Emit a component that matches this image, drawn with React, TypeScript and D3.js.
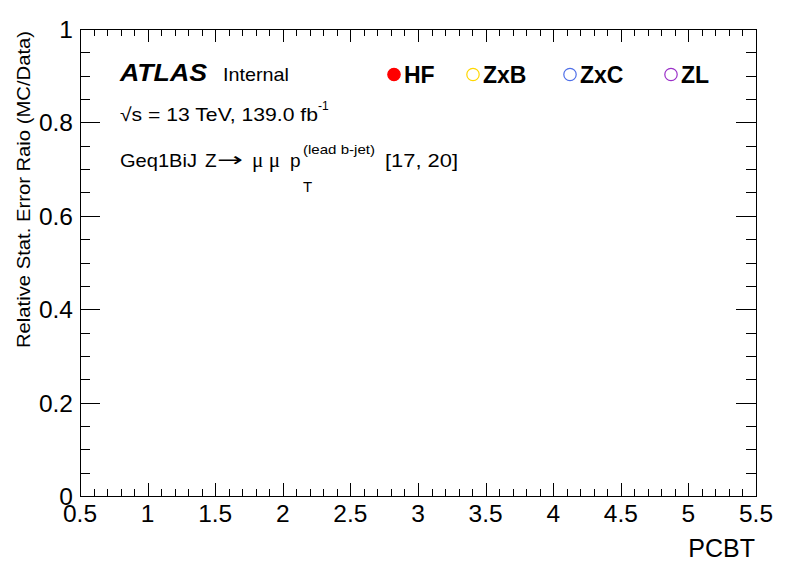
import { useEffect, useRef } from 'react';
import * as d3 from 'd3';

// Series in the legend (the histogram itself holds no visible points)
const seriesNames = ['HF', 'ZxB', 'ZxC', 'ZL'];
const seriesColors = ['#ff0000', '#ffd700', '#4f6fe8', '#9b30c8'];
const seriesFilled = [true, false, false, false];
const seriesValues: number[][] = [[], [], [], []];

const xDomain = [0.5, 5.5];
const yDomain = [0, 1];
const xMajorTicks = [0.5, 1, 1.5, 2, 2.5, 3, 3.5, 4, 4.5, 5, 5.5];
const yMajorTicks = [0, 0.2, 0.4, 0.6, 0.8, 1];

export default function App() {
  const svgRef = useRef<SVGSVGElement>(null);

  useEffect(() => {
    if (!svgRef.current) return;
    const width = 796;
    const height = 572;
    const margin = { top: 29, right: 40, bottom: 76, left: 80 };
    const innerW = width - margin.left - margin.right;
    const innerH = height - margin.top - margin.bottom;
    const font = "'Liberation Sans', Arial, Helvetica, sans-serif";

    const svg = d3.select(svgRef.current);
    svg.selectAll('*').remove();
    svg.attr('width', width).attr('height', height);

    svg.append('rect').attr('width', width).attr('height', height).attr('fill', '#fff');

    const g = svg.append('g').attr('transform', `translate(${margin.left},${margin.top})`);

    const x = d3.scaleLinear().domain(xDomain).range([0, innerW]);
    const y = d3.scaleLinear().domain(yDomain).range([innerH, 0]);

    const xMinor = d3.range(51).map((i) => xDomain[0] + i * 0.1);
    const yMinor = d3.range(21).map((i) => i * 0.05);
    const xMajLen = 13;
    const xMinLen = 7;
    const yMajLen = 20;
    const yMinLen = 10;

    const isMajor = (v: number, step: number) => Math.abs(v / step - Math.round(v / step)) < 1e-6;

    // frame
    g.append('rect')
      .attr('x', 0.5)
      .attr('y', 0.5)
      .attr('width', innerW)
      .attr('height', innerH)
      .attr('fill', 'none')
      .attr('stroke', '#000')
      .attr('stroke-width', 1);

    // x ticks bottom & top
    xMinor.forEach((v) => {
      const len = isMajor(v, 0.5) ? xMajLen : xMinLen;
      const px = Math.round(x(v)) + 0.5;
      g.append('line').attr('x1', px).attr('x2', px).attr('y1', innerH).attr('y2', innerH - len).attr('stroke', '#000');
      g.append('line').attr('x1', px).attr('x2', px).attr('y1', 0).attr('y2', len).attr('stroke', '#000');
    });

    // y ticks left & right
    yMinor.forEach((v) => {
      const len = isMajor(v, 0.2) ? yMajLen : yMinLen;
      const py = Math.round(y(v)) + 0.5;
      g.append('line').attr('x1', 0).attr('x2', len).attr('y1', py).attr('y2', py).attr('stroke', '#000');
      g.append('line').attr('x1', innerW).attr('x2', innerW - len).attr('y1', py).attr('y2', py).attr('stroke', '#000');
    });

    // x tick labels
    xMajorTicks.forEach((v) => {
      g.append('text')
        .attr('x', x(v))
        .attr('y', innerH + 26)
        .attr('text-anchor', 'middle')
        .attr('font-family', font)
        .attr('font-size', 24.5)
        .text(String(v));
    });

    // y tick labels
    yMajorTicks.forEach((v) => {
      g.append('text')
        .attr('x', -7)
        .attr('y', y(v) + 9)
        .attr('text-anchor', 'end')
        .attr('font-family', font)
        .attr('font-size', 24.5)
        .text(String(v));
    });

    // axis titles
    svg.append('text')
      .attr('x', 755)
      .attr('y', 557)
      .attr('text-anchor', 'end')
      .attr('font-family', font)
      .attr('font-size', 25)
      .text('PCBT');

    svg.append('text')
      .attr('transform', `translate(30,31) rotate(-90)`)
      .attr('text-anchor', 'end')
      .attr('font-family', font)
      .attr('font-size', 19)
      .attr('textLength', 317)
      .attr('lengthAdjust', 'spacingAndGlyphs')
      .text('Relative Stat. Error Raio (MC/Data)');

    // ATLAS labels
    svg.append('text')
      .attr('x', 120)
      .attr('y', 81)
      .attr('font-family', font)
      .attr('font-size', 24)
      .attr('font-weight', 'bold')
      .attr('font-style', 'italic')
      .attr('textLength', 87)
      .attr('lengthAdjust', 'spacingAndGlyphs')
      .text('ATLAS');
    svg.append('text')
      .attr('x', 223)
      .attr('y', 81)
      .attr('font-family', font)
      .attr('font-size', 19)
      .attr('textLength', 66)
      .attr('lengthAdjust', 'spacingAndGlyphs')
      .text('Internal');

    const txt = (s: string, px: number, py: number, size: number, len?: number, fam = font) => {
      const t = svg.append('text').attr('x', px).attr('y', py).attr('font-family', fam).attr('font-size', size).text(s);
      if (len) t.attr('textLength', len).attr('lengthAdjust', 'spacingAndGlyphs');
      return t;
    };

    txt('\u221As = 13 TeV, 139.0 fb', 120, 121, 18.5, 198);
    txt('-1', 318, 110, 12);

    txt('Geq1BiJ', 120, 167, 19, 77);
    txt('Z', 205, 167, 19);
    txt('\u2192', 217, 166, 19, 26, "'DejaVu Sans', sans-serif");
    txt('\u03bc \u03bc', 252, 167, 20, 28, "'Liberation Serif', 'DejaVu Serif', serif");
    txt('p', 290, 167, 19);
    txt('(lead b-jet)', 303, 154, 13, 72);
    txt('T', 303, 192, 15);
    txt('[17, 20]', 385, 167, 19, 73);

    // legend
    const legendX = [394, 473, 570, 671];
    seriesNames.forEach((name, i) => {
      svg.append('circle')
        .attr('cx', legendX[i])
        .attr('cy', 74.5)
        .attr('r', 6.2)
        .attr('fill', seriesFilled[i] ? seriesColors[i] : 'none')
        .attr('stroke', seriesColors[i])
        .attr('stroke-width', 1.2);
      svg.append('text')
        .attr('x', legendX[i] + 10)
        .attr('y', 83)
        .attr('font-family', font)
        .attr('font-size', 23)
        .attr('font-weight', 'bold')
        .text(name);
    });

    // series points (none are visible in this plot)
    seriesValues.forEach((vals, i) => {
      vals.forEach((v, j) => {
        g.append('circle')
          .attr('cx', x(j + 1))
          .attr('cy', y(v))
          .attr('r', 4)
          .attr('fill', seriesFilled[i] ? seriesColors[i] : 'none')
          .attr('stroke', seriesColors[i]);
      });
    });
  }, []);

  return <svg ref={svgRef} style={{ display: 'block', position: 'absolute', left: 0, top: 0 }} />;
}
